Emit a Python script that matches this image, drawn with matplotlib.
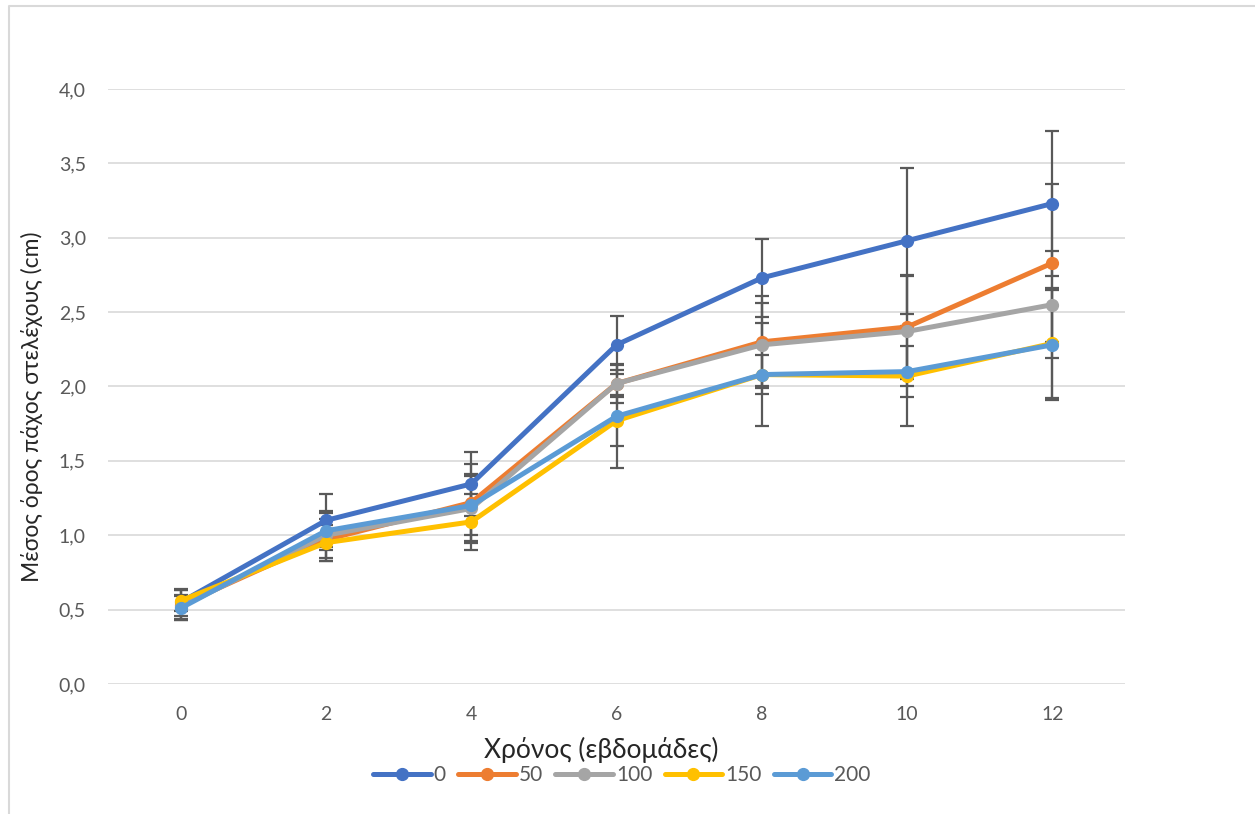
import matplotlib
import matplotlib.pyplot as plt
from matplotlib.lines import Line2D

matplotlib.use('Agg')

plt.rcParams['font.family'] = ['Lato', 'DejaVu Sans']

weeks = ['0', '2', '4', '6', '8', '10', '12']
doses = ['0', '50', '100', '150', '200']

# mean stem thickness (cm) per dose
mean_0 = [0.55, 1.10, 1.345, 2.28, 2.73, 2.98, 3.23]
mean_50 = [0.53, 0.97, 1.22, 2.02, 2.30, 2.40, 2.83]
mean_100 = [0.52, 1.00, 1.18, 2.02, 2.28, 2.37, 2.55]
mean_150 = [0.56, 0.95, 1.09, 1.77, 2.08, 2.07, 2.29]
mean_200 = [0.51, 1.03, 1.20, 1.80, 2.08, 2.10, 2.28]

# standard deviations
sd_0 = [0.09, 0.18, 0.215, 0.195, 0.26, 0.49, 0.49]
sd_50 = [0.10, 0.14, 0.26, 0.13, 0.31, 0.35, 0.53]
sd_100 = [0.08, 0.15, 0.23, 0.09, 0.28, 0.37, 0.36]
sd_150 = [0.07, 0.12, 0.19, 0.17, 0.345, 0.335, 0.37]
sd_200 = [0.08, 0.13, 0.20, 0.345, 0.13, 0.17, 0.37]

means = [mean_0, mean_50, mean_100, mean_150, mean_200]
sds = [sd_0, sd_50, sd_100, sd_150, sd_200]
colors = ['#4472C4', '#ED7D31', '#A5A5A5', '#FFC000', '#5B9BD5']

fig = plt.figure(figsize=(12.55, 8.14), dpi=100)
ax = fig.add_axes([0.0861, 0.1597, 0.8104, 0.731])

x = list(range(len(weeks)))
for m, s in zip(means, sds):
	ax.errorbar(x, m, yerr=s, fmt='none', ecolor='#595959', elinewidth=1.6,
				capsize=5.3, capthick=1.6, zorder=2)
for i, (m, c) in enumerate(zip(means, colors)):
	ax.plot(x, m, color=c, lw=3.6, marker='o', markersize=8.5, label=doses[i],
			solid_capstyle='round', zorder=3 + i)

ax.set_xlim(-0.5, len(weeks) - 0.5)
ax.set_ylim(0, 4.0)
ax.set_xticks(x)
ax.set_xticklabels(weeks)
yt = [0, 0.5, 1.0, 1.5, 2.0, 2.5, 3.0, 3.5, 4.0]
ax.set_yticks(yt)
ax.set_yticklabels([f'{v:.1f}'.replace('.', ',') for v in yt])
ax.tick_params(length=0, labelsize=14, colors='#595959')
ax.tick_params(axis='y', pad=16)
ax.tick_params(axis='x', pad=16)
ax.grid(axis='y', color='#D9D9D9', lw=1.2)
ax.set_axisbelow(True)
for sp in ax.spines.values():
	sp.set_visible(False)

ax.set_ylabel('Μέσος όρος πάχος στελέχους (cm)', fontsize=16.5, color='#262626')
ax.yaxis.set_label_coords(-0.064, 0.4655)
fig.text(601 / 1255, 1 - 750 / 814, 'Χρόνος (εβδομάδες)', fontsize=19, color='#262626',
		 ha='center', va='center')

ax.legend(loc='center', bbox_to_anchor=(622 / 1255, 1 - 775 / 814), bbox_transform=fig.transFigure,
		  ncol=5, frameon=False, fontsize=15, labelcolor='#595959', handlelength=2.75,
		  handletextpad=0.15, columnspacing=0.6)

# chart frame (top and left edges)
fig.lines.append(Line2D([8.5 / 1255, 8.5 / 1255, 1], [0, 1 - 6 / 814, 1 - 6 / 814],
						transform=fig.transFigure, color='#D9D9D9', lw=1.5))

fig.savefig('out.png', dpi=100)
